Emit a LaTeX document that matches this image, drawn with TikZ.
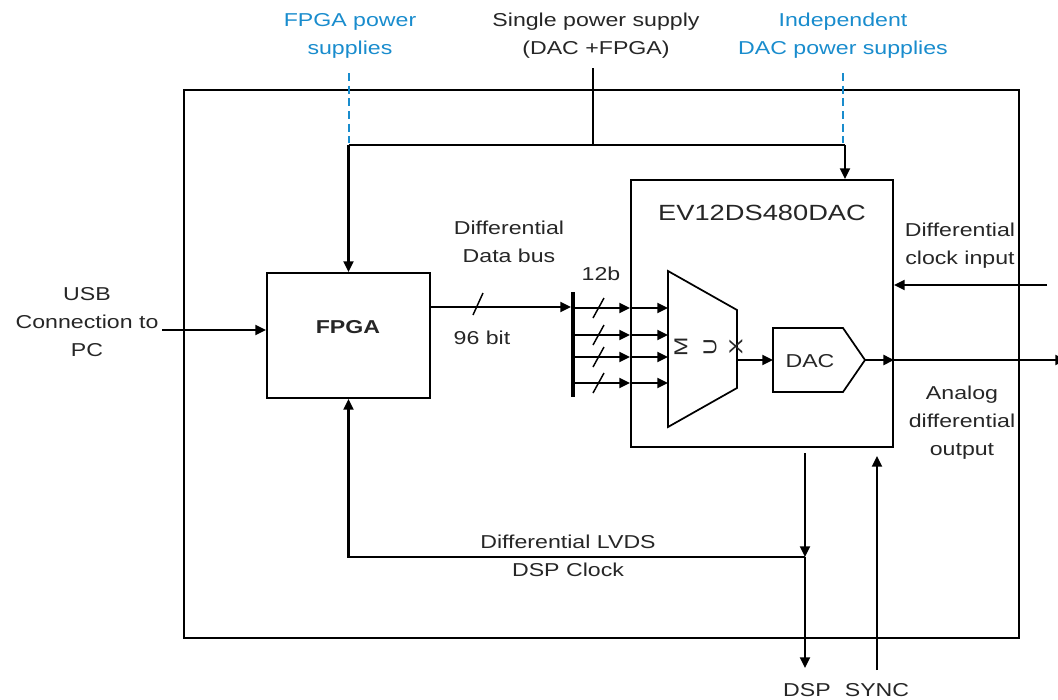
\documentclass[tikz,border=0pt]{standalone}
\usepackage{fontspec}
\setmainfont{Liberation Sans}[FakeStretch=1.24]
\usetikzlibrary{arrows.meta,fit,calc}
\definecolor{pwrblue}{RGB}{25,140,205}
\begin{document}
\begin{tikzpicture}[x=0.75pt,y=-0.75pt,
  line width=1.6pt,
  tip/.style={-{Triangle[length=8pt,width=7.5pt]}},
  lbl/.style={font=\fontsize{14}{21}\selectfont, align=center, inner sep=0pt, text=black!85},
  bluelbl/.style={lbl, text=pwrblue},
  blk/.style={draw, inner sep=0pt, line width=1.6pt},
  bluedash/.style={draw=pwrblue, line width=0.8pt, dash pattern=on 6pt off 3.5pt},
  slash/.style={line width=1.1pt},
]
\useasboundingbox (0,0) rectangle (1058,700);

% boxes
\coordinate (o1) at (184,90); \coordinate (o2) at (1019,638);
\node[blk, fit=(o1)(o2)] (board) {};
\coordinate (f1) at (267,273); \coordinate (f2) at (430,398);
\node[blk, fit=(f1)(f2)] (fpga) {};
\node[lbl, font=\bfseries\fontsize{14}{17}\selectfont] (fpgatxt) at (348,327) {FPGA};
\coordinate (c1) at (631,180); \coordinate (c2) at (893,447);
\node[blk, fit=(c1)(c2)] (chip) {};
\node[lbl, font=\fontsize{16.5}{20}\selectfont] (title) at (762,213) {EV12DS480DAC};

% MUX
\coordinate (m1) at (668,271); \coordinate (m2) at (737,310);
\coordinate (m3) at (737,388); \coordinate (m4) at (668,427);
\draw[line width=1.3pt] (m1) -- (m2) -- (m3) -- (m4) -- cycle;
\node[lbl, rotate=90] (mM) at (681,347) {M};
\node[lbl, rotate=90] (mU) at (710,347) {U};
\node[lbl, rotate=90] (mX) at (736,347) {X};

% DAC block
\coordinate (d1) at (773,328); \coordinate (d2) at (843,328);
\coordinate (dacout) at (865,360); \coordinate (d4) at (843,392);
\coordinate (d5) at (773,392); \coordinate (dacin) at (773,360);
\draw[line width=1.3pt] (d1) -- (d2) -- (dacout) -- (d4) -- (d5) -- cycle;
\node[lbl] (dactxt) at (810,361) {DAC};

% bus bar
\coordinate (bt) at (573,292); \coordinate (bb) at (573,397);
\draw[line width=2.4pt] (bt) -- (bb);
\coordinate (busin) at (571,307);
\draw[tip] (fpga.east |- busin) -- (busin);
\coordinate (s0) at (478,304);
\draw[slash] ($(s0)+(-5,11)$) -- ($(s0)+(5,-11)$);
\foreach \yy [count=\i] in {308,335,357,383} {
  \coordinate (bl\i) at (573,\yy);
  \draw[tip] (bl\i) -- (chip.west |- bl\i);
  \draw[tip] (chip.west |- bl\i) -- (m1 |- bl\i);
  \draw[slash] ($(bl\i)+(20,10)$) -- ($(bl\i)+(31,-10)$);
}

% mux to dac, dac out
\coordinate (muxout) at (737,360);
\draw[tip] (muxout) -- (dacin);
\draw[tip] (dacout) -- (chip.east |- dacout);
\coordinate (outend) at (1066,360);
\draw[tip] (chip.east |- dacout) -- (outend);

% clock input
\coordinate (clkstart) at (1047,285);
\draw[tip] (clkstart) -- (chip.east |- clkstart);

% DSP and LVDS clock
\coordinate (dsptop) at (805,453); \coordinate (dspj) at (805,557);
\coordinate (dspend) at (805,668);
\draw[tip] (dsptop) -- (dspj);
\draw[tip] (dspj) -- (dspend);
\draw[tip] (dspj) -- (fpga.south |- dspj) -- (fpga.south);

% SYNC
\coordinate (syncstart) at (877,670); \coordinate (syncend) at (877,456);
\draw[tip] (syncstart) -- (syncend);

% USB
\coordinate (usbstart) at (162,330);
\draw[tip] (usbstart) -- (fpga.west |- usbstart);

% power
\coordinate (sps) at (593,68); \coordinate (spj) at (593,145);
\coordinate (pl) at (fpga.north |- spj); \coordinate (pr) at (845,145);
\draw (sps) -- (spj);
\draw (pl) -- (pr);
\draw[tip] (pr) -- (chip.north -| pr);
\draw[tip] (pl) -- (fpga.north);

% blue dashed
\coordinate (bd1) at (349,73); \coordinate (bd2) at (349,143);
\coordinate (bd3) at (843,73); \coordinate (bd4) at (843,143);
\draw[bluedash] (bd1) -- (bd2);
\draw[bluedash] (bd3) -- (bd4);

% labels
\node[bluelbl] (lfpgap) at (350,36) {FPGA power\\supplies};
\node[lbl] (lsingle) at (596,36) {Single power supply\\(DAC +FPGA)};
\node[bluelbl] (lindep) at (843,36) {Independent\\DAC power supplies};
\node[lbl] (lusb) at (87,322) {USB\\Connection to\\PC};
\node[lbl] (ldata) at (509,242) {Differential\\Data bus};
\node[lbl] (l96) at (482,338) {96 bit};
\node[lbl] (l12) at (601,274) {12b};
\node[lbl] (lclk) at (960,246) {Differential\\clock input};
\node[lbl] (lana) at (962,423) {Analog\\differential\\output};
\node[lbl] (llvds) at (568,556) {Differential LVDS\\DSP Clock};
\node[lbl] (ldsp) at (807,690) {DSP};
\node[lbl] (lsync) at (877,690) {SYNC};
\end{tikzpicture}
\end{document}
